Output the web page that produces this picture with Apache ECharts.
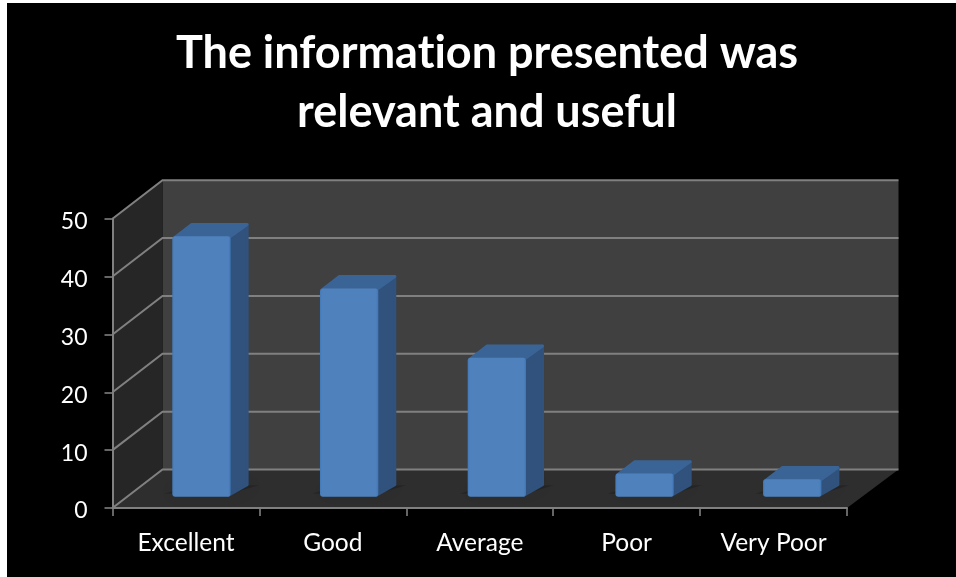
<!DOCTYPE html>
<html><head><meta charset="utf-8">
<style>html,body{margin:0;padding:0;background:#fff}#c{width:956px;height:577px}</style>
<script src="https://cdn.jsdelivr.net/npm/echarts@6/dist/echarts.min.js"></script>
</head><body><div id="c"></div>
<script>
const titleText = 'The information presented was\nrelevant and useful';
const categories = ['Excellent', 'Good', 'Average', 'Poor', 'Very Poor'];
const values = [45, 36, 24, 4, 3];
const yTicks = [0, 10, 20, 30, 40, 50];

const FONT = 'Lato';
const LINE = '#808080';
const WALL_D = [50, -38.5];   // depth of the 3D box at its left side, in pixels
const WALL_DX_RIGHT = 51.5;   // depth of the 3D box at its right side
const BAR_OFF = [15.5, -11.3];// bar front face inset from front plane
const BAR_SPREAD = 0.8;       // slight widening of bar pitch from the projection
const BAR_D = [18, -13.4];    // bar depth

// no "ti" ligature in the title, as in the reference
const origGetContext = HTMLCanvasElement.prototype.getContext;
HTMLCanvasElement.prototype.getContext = function () {
  const ctx = origGetContext.apply(this, arguments);
  if (ctx && 'textRendering' in ctx) ctx.textRendering = 'optimizeSpeed';
  return ctx;
};

const chart = echarts.init(document.getElementById('c'), null, {renderer: 'canvas'});

function renderFrame(params, api) {
  const t = api.value(0);
  const cs = params.coordSys;
  const left = cs.x, right = cs.x + cs.width;
  const y = api.coord([0, t])[1];
  const dx = WALL_D[0], dy = WALL_D[1], dxr = WALL_DX_RIGHT;
  const children = [];
  if (t === yTicks[0]) {
    const yTop = api.coord([0, yTicks[yTicks.length - 1]])[1];
    children.push({type: 'polygon', shape: {points: [[left + dx, yTop + dy], [right + dxr, yTop + dy], [right + dxr, y + dy], [left + dx, y + dy]]}, style: {fill: '#404040'}});
    children.push({type: 'polygon', shape: {points: [[left, yTop], [left + dx, yTop + dy], [left + dx, y + dy], [left, y]]}, style: {fill: '#262626'}});
    children.push({type: 'polygon', shape: {points: [[left, y], [left + dx, y + dy], [right + dxr, y + dy], [right, y]]}, style: {fill: '#2e2e2e'}});
  }
  children.push({type: 'polyline', shape: {points: [[left, y], [left + dx, y + dy], [right + dxr, y + dy]]}, style: {fill: 'none', stroke: LINE, lineWidth: 2}});
  return {type: 'group', children};
}

function renderBar(params, api) {
  const i = api.value(0), v = api.value(1);
  const base = api.coord([i, 0]);
  const top = api.coord([i, v]);
  const w = api.size([1, 0])[0] * 0.397;
  const x0 = base[0] + BAR_OFF[0] + BAR_SPREAD * i - w / 2, x1 = x0 + w;
  const yb = base[1] + BAR_OFF[1], yt = top[1] + BAR_OFF[1];
  const dx = BAR_D[0], dy = BAR_D[1];
  const ins = 1.5;
  const edge = (fill) => ({fill, stroke: fill, lineWidth: ins * 2, lineJoin: 'round'});
  return {type: 'group', children: [
    {type: 'polygon', shape: {points: [[x0 - 8, yb - 3], [x1, yb - 3], [x1 + dx + 10, yb + dy + 2], [x0 + dx, yb + dy + 2]]},
      style: {fill: 'rgba(0,0,0,0.18)', shadowBlur: 16, shadowColor: 'rgba(0,0,0,0.55)'}},
    {type: 'polygon', shape: {points: [[x1 - 2, yt + 2], [x1 + dx - ins, yt + dy + ins], [x1 + dx - ins, yb + dy + ins], [x1 - 2, yb - ins]]}, style: edge('#30527c')},
    {type: 'polygon', shape: {points: [[x0 + 2, yt + ins], [x0 + dx + ins, yt + dy + ins], [x1 + dx - ins, yt + dy + ins], [x1 - 2, yt + ins]]}, style: edge('#3a6496')},
    {type: 'rect', shape: {x: x0, y: yt, width: w, height: yb - yt, r: 3},
      style: {fill: {type: 'linear', x: 0, y: 0, x2: 1, y2: 0, colorStops: [
        {offset: 0, color: '#447ab9'}, {offset: 0.04, color: '#4f81bd'}, {offset: 0.96, color: '#4f81bd'}, {offset: 1, color: '#3f76b6'}]}}}
  ]};
}

chart.setOption({
  animation: false,
  backgroundColor: '#ffffff',
  textStyle: {fontFamily: FONT},
  graphic: [{type: 'rect', z: -100, silent: true, shape: {x: 7, y: 3, width: 949, height: 574}, style: {fill: '#000000'}}],
  title: {
    text: titleText, left: 482, top: 19, textAlign: 'center',
    textStyle: {color: '#ffffff', fontFamily: FONT, fontWeight: 'bold', fontSize: 45, lineHeight: 59}
  },
  grid: {left: 112.5, right: 109, top: 218.7, bottom: 69},
  xAxis: {
    type: 'category', data: categories, z: 10,
    axisLine: {show: true, lineStyle: {color: LINE, width: 2}},
    axisTick: {show: true, length: 8, lineStyle: {color: LINE, width: 1.6}},
    axisLabel: {color: '#ffffff', fontFamily: FONT, fontSize: 24.5, margin: 23},
    splitLine: {show: false}
  },
  yAxis: {
    type: 'value', min: 0, max: 50, interval: 10, z: 10,
    axisLine: {show: true, lineStyle: {color: LINE, width: 2}},
    axisTick: {show: true, length: 8, lineStyle: {color: LINE, width: 1.6}},
    axisLabel: {
      color: '#ffffff', fontFamily: FONT, fontSize: 23, margin: 25,
      formatter: '{t|{value}}',
      rich: {t: {color: '#ffffff', fontFamily: FONT, fontSize: 23, padding: [6, 0, 0, 0]}}
    },
    splitLine: {show: false}
  },
  series: [
    {type: 'custom', name: 'frame', silent: true, z: 1, clip: false, renderItem: renderFrame, data: yTicks.map(t => [t]), encode: {y: 0}},
    {type: 'custom', name: 'bars', silent: true, z: 2, clip: false, renderItem: renderBar, data: values.map((v, i) => [i, v]), encode: {x: 0, y: 1}}
  ]
});
</script></body></html>
